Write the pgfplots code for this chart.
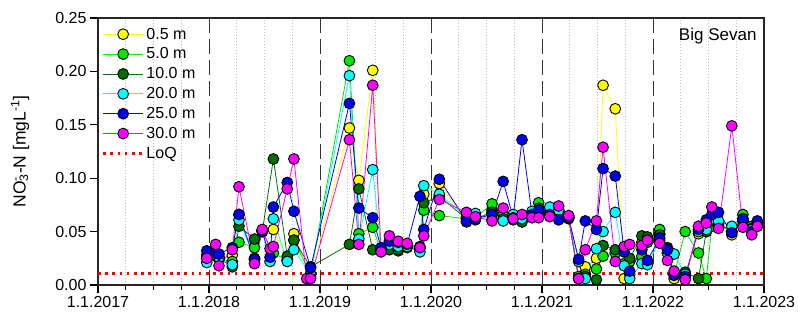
\documentclass[border=0pt]{standalone}
\usepackage{fontspec}
\setmainfont{Liberation Sans}
\usepackage{pgfplots}
\usepackage{pgfplotstable}
\pgfplotsset{compat=1.18}

\definecolor{cYel}{RGB}{255,255,0}
\definecolor{cGrn}{RGB}{0,230,0}
\definecolor{cDkg}{RGB}{0,110,0}
\definecolor{cCya}{RGB}{0,255,255}
\definecolor{cBlu}{RGB}{0,0,240}
\definecolor{cMag}{RGB}{255,0,255}

% NO3-N concentrations, Big Sevan; t = decimal year, columns = sampling depth
\pgfplotstableread{
t        d05    d5     d10    d20    d25    d30
2017.98  0.027  0.025  0.028  0.021  0.032  0.025
2018.06  0.030  0.027  0.028  0.028  0.030  0.038
2018.09  0.026  0.024  0.025  0.026  0.029  0.018
2018.21  0.028  0.022  0.017  0.019  0.035  0.033
2018.27  0.066  0.040  0.055  0.061  0.066  0.092
2018.41  0.024  0.035  0.043  0.025  0.024  0.020
2018.48  0.051  0.050  0.050  0.051  0.050  0.052
2018.55  nan    nan    nan    0.022  0.026  0.034
2018.58  0.052  0.030  0.118  0.062  0.073  0.036
2018.705 0.024  0.023  0.027  0.022  0.096  0.090
2018.765 0.048  0.042  0.042  0.033  0.069  0.118
2018.88  nan    nan    nan    nan    nan    0.006
2018.915 0.008  0.010  0.017  0.010  0.016  0.006
2019.265 0.147  0.210  0.038  0.196  0.170  0.136
2019.35  0.098  0.048  0.090  0.043  0.072  0.038
2019.475 0.201  0.054  0.033  0.108  0.063  0.187
2019.55  0.034  0.032  0.034  0.033  0.035  0.031
2019.625 0.040  0.037  0.033  0.038  0.041  0.046
2019.705 0.038  0.032  0.033  0.036  0.040  0.041
2019.785 0.037  0.036  0.035  0.036  0.038  0.039
2019.90  0.036  0.035  0.034  0.031  0.083  0.035
2019.935 0.085  0.070  0.077  0.093  0.052  0.046
2020.075 0.095  0.065  0.083  0.085  0.099  0.080
2020.32  0.059  0.062  0.062  0.064  0.060  0.068
2020.40  0.061  0.063  0.062  0.067  0.062  0.064
2020.55  0.070  0.076  0.068  0.061  0.066  0.060
2020.65  0.065  0.066  0.062  0.060  0.097  0.072
2020.74  0.063  0.064  0.061  0.066  0.063  0.062
2020.82  0.064  0.065  0.059  0.062  0.136  0.066
2020.91  0.066  0.067  0.065  0.069  0.066  0.063
2020.97  0.070  0.077  0.072  0.068  0.070  0.063
2021.07  0.066  0.068  0.066  0.073  0.066  0.064
2021.15  0.068  0.070  0.066  0.070  0.061  0.074
2021.24  0.063  0.064  0.062  0.063  0.063  0.065
2021.33  0.006  0.008  0.006  0.022  0.024  0.006
2021.39  0.017  0.010  0.008  0.006  0.060  0.033
2021.49  0.025  0.015  0.005  0.034  0.052  0.060
2021.55  0.187  0.027  0.037  0.050  0.109  0.129
2021.66  0.165  0.030  0.033  0.068  0.102  0.022
2021.74  0.006  0.020  0.035  0.018  0.031  0.036
2021.79  0.010  0.022  0.025  0.006  0.013  0.038
2021.90  0.040  0.027  0.046  0.020  0.033  0.037
2021.95  0.042  0.040  0.045  0.019  0.023  0.042
2022.06  0.048  0.052  0.047  0.042  0.044  0.039
2022.13  0.030  0.035  0.034  0.030  0.033  0.023
2022.19  0.006  0.010  0.010  0.029  0.009  0.013
2022.29  0.008  0.050  0.012  0.010  0.008  0.005
2022.41  0.048  0.030  0.006  0.050  0.052  0.055
2022.48  0.050  0.006  0.050  0.052  0.061  0.058
2022.53  0.058  0.055  0.060  0.062  0.066  0.073
2022.59  0.055  0.058  0.057  0.060  0.068  0.053
2022.71  0.047  0.050  0.050  0.055  0.049  0.149
2022.81  0.060  0.066  0.062  0.060  0.062  0.054
2022.89  0.052  0.055  0.053  0.052  0.050  0.047
2022.94  0.055  0.057  0.058  0.058  0.060  0.055
}\nitrate

\pgfplotsset{
  depth/.style={color=#1, line width=0.8pt, mark=*, mark size=5.4pt,
    mark options={fill=#1, draw=black, line width=0.9pt, solid}},
}

\begin{document}
\begin{tikzpicture}[font=\fontsize{16}{19}\selectfont]
\begin{axis}[
  width=666pt, height=267pt, scale only axis,
  xmin=2017, xmax=2023, ymin=0, ymax=0.25,
  xtick={2017,2018,2019,2020,2021,2022,2023},
  xticklabels={1.1.2017,1.1.2018,1.1.2019,1.1.2020,1.1.2021,1.1.2022,1.1.2023},
  minor x tick num=3,
  ytick={0,0.05,0.10,0.15,0.20,0.25},
  yticklabel style={/pgf/number format/.cd, fixed, fixed zerofill, precision=2},
  /pgf/number format/assume math mode=true,
  tick align=outside, xtick pos=bottom, ytick pos=left,
  major tick length=8pt, minor tick length=5pt,
  tick style={black, line width=1.2pt},
  xmajorgrids, xminorgrids,
  major grid style={black!80, dash pattern=on 15pt off 6pt, line width=1pt},
  minor grid style={black!25, dash pattern=on 1pt off 2pt, line width=0.6pt},
  axis line style={black!85, line width=1.3pt},
  ylabel={NO\rlap{\textsuperscript{-}}\textsubscript{3}-N [mgL\textsuperscript{-1}]},
  ylabel style={at={(rel axis cs:0,0.5)}, anchor=center, yshift=78pt,
    font=\fontsize{17.5}{20}\selectfont},
  legend style={at={(rel axis cs:0.004,0.975)}, anchor=north west,
    draw=none, fill=none, row sep=3.2pt, inner xsep=1pt, inner ysep=1pt,
    cells={anchor=west}},
  legend image code/.code={\draw[mark repeat=2,mark phase=2]
    plot coordinates {(0pt,0pt) (20pt,0pt) (40pt,0pt)};},
]
% limit of quantification, drawn first so the markers sit on top of it
\addplot[red, line width=2.6pt, dash pattern=on 2.6pt off 4.6pt, forget plot]
  coordinates {(2017,0.011) (2023,0.011)};

\addplot[depth=cYel] table[x=t, y=d05] {\nitrate};
\addlegendentry{0.5 m}
\addplot[depth=cGrn] table[x=t, y=d5] {\nitrate};
\addlegendentry{5.0 m}
\addplot[depth=cDkg] table[x=t, y=d10] {\nitrate};
\addlegendentry{10.0 m}
\addplot[depth=cCya] table[x=t, y=d20] {\nitrate};
\addlegendentry{20.0 m}
\addplot[depth=cBlu] table[x=t, y=d25] {\nitrate};
\addlegendentry{25.0 m}
\addplot[depth=cMag] table[x=t, y=d30] {\nitrate};
\addlegendentry{30.0 m}
\addlegendimage{red, line width=2.6pt, dash pattern=on 2.6pt off 4.6pt}
\addlegendentry{LoQ}

\node[anchor=north east, font=\fontsize{17}{20}\selectfont]
  at (rel axis cs:0.994,0.975) {Big Sevan};
\end{axis}
\pgfresetboundingbox
\path ([shift={(-98pt,-42pt)}]current axis.south west)
  rectangle ([shift={(34pt,18pt)}]current axis.north east);
\end{tikzpicture}
\end{document}
